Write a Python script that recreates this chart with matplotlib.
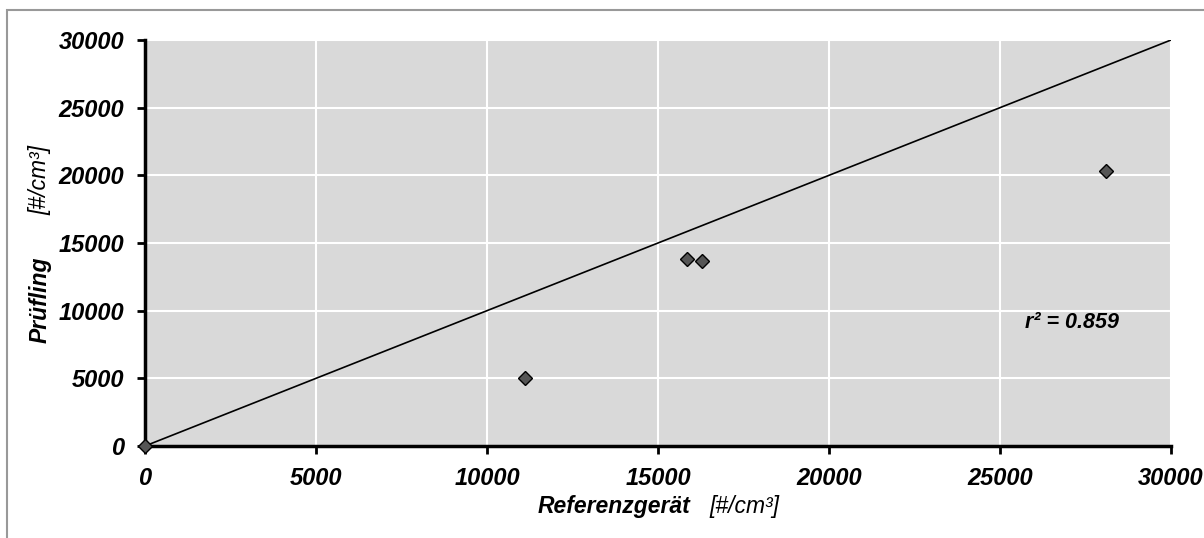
import matplotlib.pyplot as plt
from matplotlib.patches import Rectangle

# Messwerte: Referenzgerät vs. Prüfling
ref_values = [0, 11100, 15850, 16300, 28100]
dut_values = [0, 5000, 13850, 13650, 20300]
line_x = [0, 30000]
line_y = [0, 30000]
ticks = [0, 5000, 10000, 15000, 20000, 25000, 30000]
r2_text = "r² = 0.859"

plt.rcParams['font.family'] = ['Liberation Sans', 'DejaVu Sans']

fig = plt.figure(figsize=(12.04, 5.38), dpi=100)
fig.patches.append(Rectangle((7 / 1204, -0.1), 1.2, 1 - 10 / 538 + 0.1,
                             transform=fig.transFigure, fill=False,
                             edgecolor='#999999', linewidth=1.5))

ax = fig.add_axes([145 / 1204, 1 - 446 / 538, 1026 / 1204, 406 / 538])
ax.set_facecolor('#d9d9d9')

ax.plot(line_x, line_y, color='black', linewidth=1.2, zorder=3)
ax.plot(ref_values, dut_values, linestyle='none', marker='D', markersize=7.5,
        markerfacecolor='#555555', markeredgecolor='black', markeredgewidth=1,
        zorder=4, clip_on=False)

ax.set_xlim(0, 30000)
ax.set_ylim(0, 30000)
ax.set_xticks(ticks)
ax.set_yticks(ticks)
ax.grid(True, color='white', linewidth=1.5)
ax.set_axisbelow(True)

for s in ['top', 'right']:
    ax.spines[s].set_visible(False)
for s in ['left', 'bottom']:
    ax.spines[s].set_linewidth(2.5)
    ax.spines[s].set_color('black')

ax.tick_params(direction='out', length=6, width=2, pad=9,
               labelsize=17, colors='black')
for lab in ax.get_xticklabels() + ax.get_yticklabels():
    lab.set_fontweight('bold')
    lab.set_fontstyle('italic')

ax.text(27100, 9100, r2_text, fontsize=15.5, fontweight='bold', fontstyle='italic',
        ha='center', va='center')

fig.text(614 / 1204, 1 - 507 / 538, "Referenzgerät", fontsize=16.5,
         fontweight='bold', fontstyle='italic', ha='center', va='center')
fig.text(744 / 1204, 1 - 507 / 538, "[#/cm³]", fontsize=16.5,
         fontstyle='italic', ha='center', va='center')
fig.text(40 / 1204, 1 - 300 / 538, "Prüfling", fontsize=16.5, rotation=90,
         fontweight='bold', fontstyle='italic', ha='center', va='center')
fig.text(40 / 1204, 1 - 180 / 538, "[#/cm³]", fontsize=16.5, rotation=90,
         fontstyle='italic', ha='center', va='center')

fig.savefig('out.png', dpi=100)
